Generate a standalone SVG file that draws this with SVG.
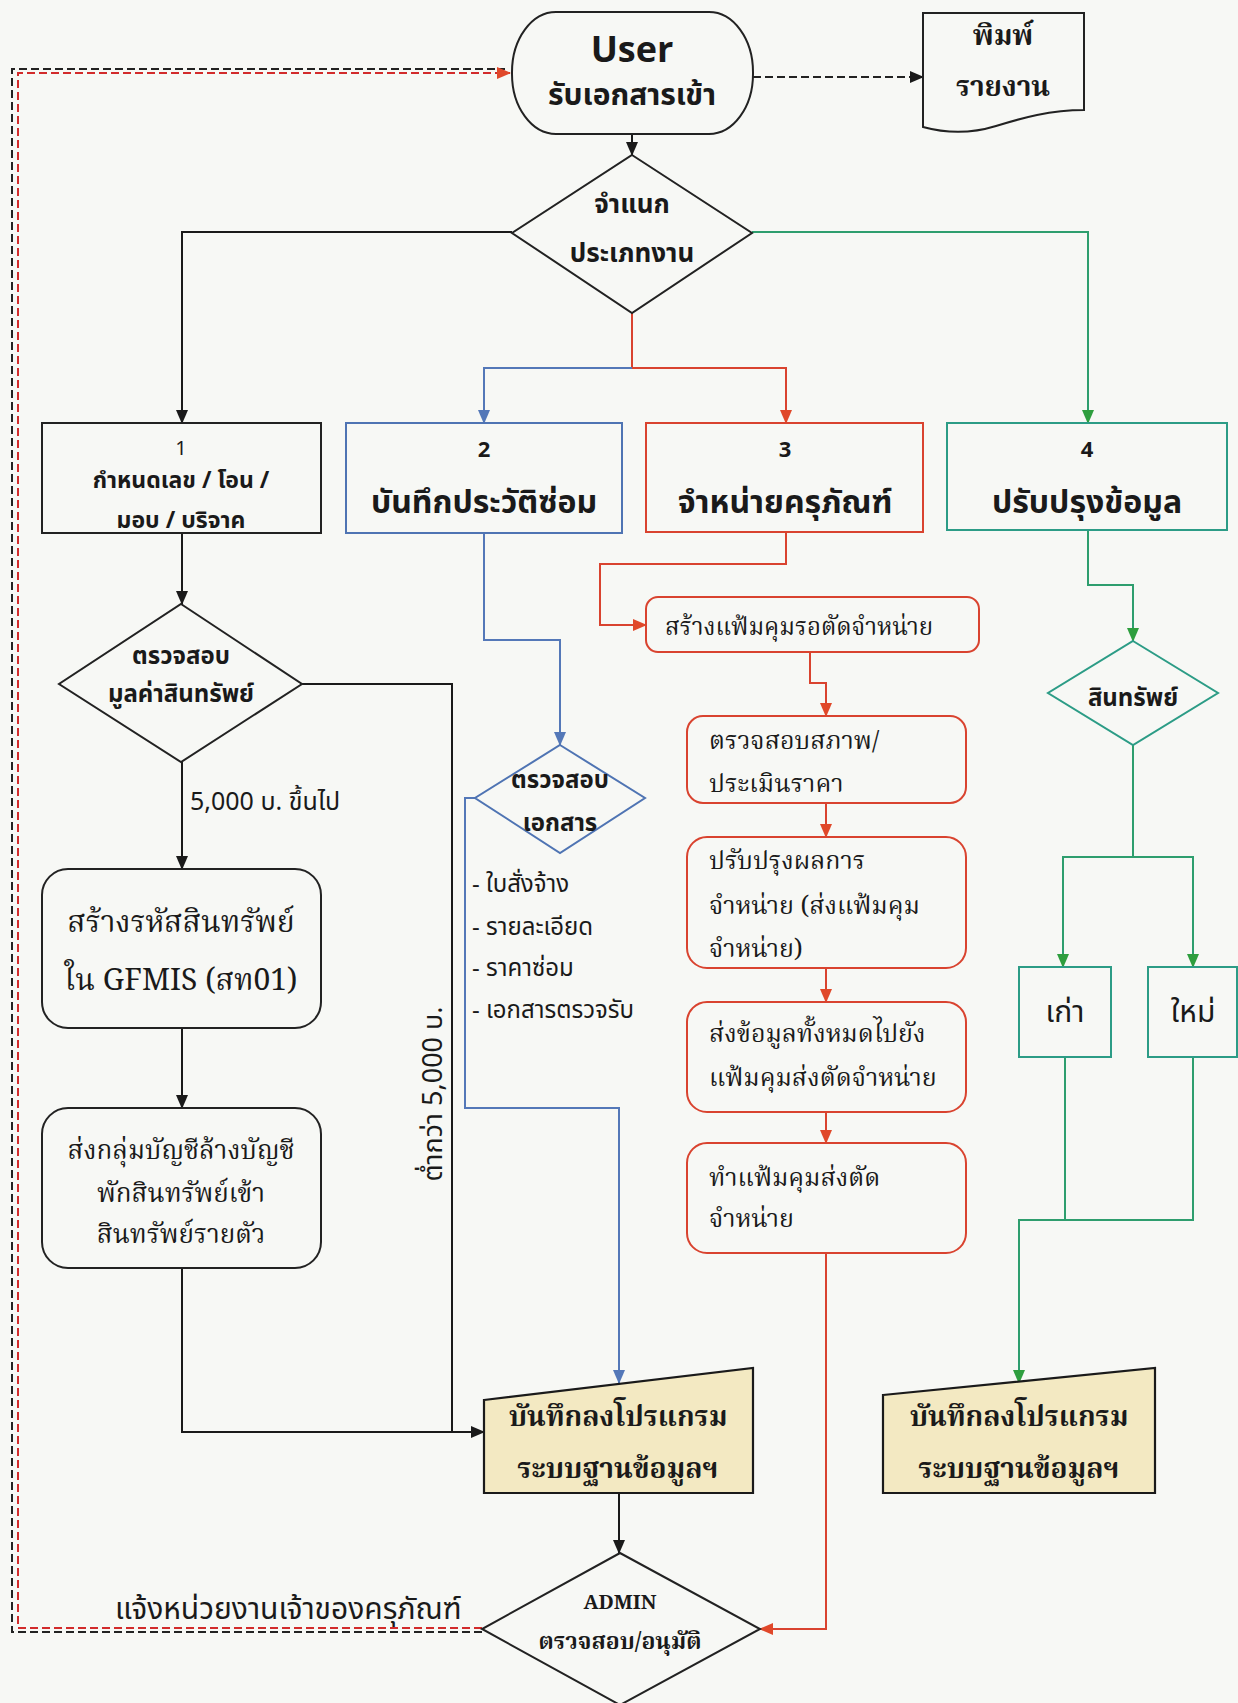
<svg xmlns="http://www.w3.org/2000/svg" width="1238" height="1703" viewBox="0 0 1238 1703">
<style>
.bg{fill:#f7f8f5}
.nb{fill:#f7f8f5;stroke:#222;stroke-width:2}
.nblue{fill:#f7f8f5;stroke:#4f74b3;stroke-width:2}
.nred{fill:#f7f8f5;stroke:#d9432f;stroke-width:2}
.ngreen{fill:#f7f8f5;stroke:#2c9c86;stroke-width:2}
.prog{fill:#f3e9c2;stroke:#1a1a1a;stroke-width:2.2}
.cb{fill:none;stroke:#1a1a1a;stroke-width:2}
.cblue{fill:none;stroke:#5478b8;stroke-width:2}
.cred{fill:none;stroke:#d9432f;stroke-width:2}
.cgreen{fill:none;stroke:#2e9e6e;stroke-width:2}
.dashk{fill:none;stroke:#222;stroke-width:2;stroke-dasharray:8 4}
.dashr{fill:none;stroke:#d22b2b;stroke-width:2;stroke-dasharray:8 4}
text{fill:#1a1a1a}
.sb{font-family:"Noto Sans Thai","Tahoma","Loma","Garuda","Noto Sans","DejaVu Sans",sans-serif;font-weight:bold}
.sr{font-family:"Noto Sans Thai","Tahoma","Loma","Garuda","Noto Sans","DejaVu Sans",sans-serif}
.fr{font-family:"Noto Serif Thai","Angsana New","TH Sarabun New","Norasi","Liberation Serif",serif}
.fb{font-family:"Noto Serif Thai","Angsana New","TH Sarabun New","Norasi","Liberation Serif",serif;font-weight:bold}
.m{text-anchor:middle}
</style>
<defs>
<marker id="ak" markerWidth="14" markerHeight="12" refX="13" refY="6" orient="auto" markerUnits="userSpaceOnUse"><path d="M0,0 L14,6 L0,12 Z" fill="#1a1a1a"/></marker>
<marker id="abl" markerWidth="14" markerHeight="12" refX="13" refY="6" orient="auto" markerUnits="userSpaceOnUse"><path d="M0,0 L14,6 L0,12 Z" fill="#5478b8"/></marker>
<marker id="ar" markerWidth="14" markerHeight="12" refX="13" refY="6" orient="auto" markerUnits="userSpaceOnUse"><path d="M0,0 L14,6 L0,12 Z" fill="#e0482a"/></marker>
<marker id="ag" markerWidth="14" markerHeight="12" refX="13" refY="6" orient="auto" markerUnits="userSpaceOnUse"><path d="M0,0 L14,6 L0,12 Z" fill="#2e9e3e"/></marker>
</defs>
<rect class="bg" x="0" y="0" width="1238" height="1703"/>

<g id="connectors">
  <path class="cb" d="M632,134 V155" marker-end="url(#ak)"/>
  <path class="dashk" d="M753,77 H923" marker-end="url(#ak)"/>
  <path class="cb" d="M512,232 H182 V423" marker-end="url(#ak)"/>
  <path class="cred" d="M632,313 V368 H786 V423" marker-end="url(#ar)"/>
  <path class="cblue" d="M632,368 H484 V423" marker-end="url(#abl)"/>
  <path class="cgreen" d="M752,232 H1088 V423" marker-end="url(#ag)"/>
  <path class="cb" d="M182,533 V604" marker-end="url(#ak)"/>
  <path class="cb" d="M182,762 V869" marker-end="url(#ak)"/>
  <path class="cb" d="M182,1028 V1108" marker-end="url(#ak)"/>
  <path class="cb" d="M182,1268 V1432 H484" marker-end="url(#ak)"/>
  <path class="cb" d="M300,684 H452 V1432"/>
  <path class="cblue" d="M484,533 V640 H560 V745" marker-end="url(#abl)"/>
  <path class="cblue" d="M475,798 H465 V1108 H619 V1383" marker-end="url(#abl)"/>
  <path class="cred" d="M786,533 V564 H600 V625 H646" marker-end="url(#ar)"/>
  <path class="cred" d="M810,652 V683 H826 V716" marker-end="url(#ar)"/>
  <path class="cred" d="M826,803 V837" marker-end="url(#ar)"/>
  <path class="cred" d="M826,968 V1002" marker-end="url(#ar)"/>
  <path class="cred" d="M826,1112 V1143" marker-end="url(#ar)"/>
  <path class="cred" d="M826,1253 V1629 H760" marker-end="url(#ar)"/>
  <path class="cgreen" d="M1088,530 V585 H1133 V641" marker-end="url(#ag)"/>
  <path class="cgreen" d="M1133,745 V857 H1063 V967" marker-end="url(#ag)"/>
  <path class="cgreen" d="M1133,857 H1193 V967" marker-end="url(#ag)"/>
  <path class="cgreen" d="M1065,1057 V1220"/>
  <path class="cgreen" d="M1193,1057 V1220 H1019 V1383" marker-end="url(#ag)"/>
  <path class="cb" d="M619,1493 V1553" marker-end="url(#ak)"/>
  <path class="dashk" d="M482,1632 H12 V69 H505"/>
  <path class="dashr" d="M482,1628 H18 V73 H510" marker-end="url(#ar)"/>
</g>

<g id="user">
  <rect class="nb" x="512" y="12" width="241" height="122" rx="44" ry="60"/>
  <text class="sb m" x="632" y="62" font-size="36" font-family="Open Sans">User</text>
  <text class="sb m" x="632" y="105" font-size="30">รับเอกสารเข้า</text>
</g>
<g id="print">
  <path class="nb" d="M923,13 H1084 V110 C1050,110 1022,118 996,126 C970,134 945,133 923,127 Z"/>
  <text class="fb m" x="1003" y="45" font-size="28">พิมพ์</text>
  <text class="fb m" x="1003" y="96" font-size="28">รายงาน</text>
</g>
<g id="classify">
  <polygon class="nb" points="632,155 752,233 632,313 512,233"/>
  <text class="sb m" x="632" y="213" font-size="26">จำแนก</text>
  <text class="sb m" x="632" y="262" font-size="26">ประเภทงาน</text>
</g>
<g id="box1">
  <rect class="nb" x="42" y="423" width="279" height="110"/>
  <text class="sr m" x="181" y="455" font-size="20">1</text>
  <text class="sb m" x="181" y="488" font-size="23">กำหนดเลข / โอน /</text>
  <text class="sb m" x="181" y="528" font-size="23">มอบ / บริจาค</text>
</g>
<g id="box2">
  <rect class="nblue" x="346" y="423" width="276" height="110"/>
  <text class="sb m" x="484" y="457" font-size="22">2</text>
  <text class="sb m" x="484" y="513" font-size="32">บันทึกประวัติซ่อม</text>
</g>
<g id="box3">
  <rect class="nred" x="646" y="423" width="277" height="109"/>
  <text class="sb m" x="785" y="457" font-size="22">3</text>
  <text class="sb m" x="785" y="513" font-size="32">จำหน่ายครุภัณฑ์</text>
</g>
<g id="box4">
  <rect class="ngreen" x="947" y="423" width="280" height="107"/>
  <text class="sb m" x="1087" y="457" font-size="22">4</text>
  <text class="sb m" x="1087" y="513" font-size="32">ปรับปรุงข้อมูล</text>
</g>
<g id="checkvalue">
  <polygon class="nb" points="181,604 302,684 181,762 59,684"/>
  <text class="sb m" x="181" y="664" font-size="24">ตรวจสอบ</text>
  <text class="sb m" x="181" y="702" font-size="24">มูลค่าสินทรัพย์</text>
  <text class="sr" x="190" y="810" font-size="25">5,000 บ. ขึ้นไป</text>
</g>
<g id="createcode">
  <rect class="nb" x="42" y="869" width="279" height="159" rx="26"/>
  <text class="fr m" x="181" y="932" font-size="30">สร้างรหัสสินทรัพย์</text>
  <text class="fr m" x="181" y="990" font-size="30">ใน GFMIS (สท01)</text>
</g>
<g id="sendacct">
  <rect class="nb" x="42" y="1108" width="279" height="160" rx="26"/>
  <text class="fr m" x="181" y="1159" font-size="26">ส่งกลุ่มบัญชีล้างบัญชี</text>
  <text class="fr m" x="181" y="1202" font-size="26">พักสินทรัพย์เข้า</text>
  <text class="fr m" x="181" y="1243" font-size="26">สินทรัพย์รายตัว</text>
</g>
<text class="sr m" font-size="27" transform="translate(442,1094) rotate(-90)">ต่ำกว่า 5,000 บ.</text>
<g id="checkdoc">
  <polygon class="nblue" points="560,745 645,798 560,853 475,798"/>
  <text class="sb m" x="560" y="788" font-size="24">ตรวจสอบ</text>
  <text class="sb m" x="560" y="831" font-size="24">เอกสาร</text>
  <text class="sr" x="472" y="892" font-size="24">- ใบสั่งจ้าง</text>
  <text class="sr" x="472" y="935" font-size="24">- รายละเอียด</text>
  <text class="sr" x="472" y="976" font-size="24">- ราคาซ่อม</text>
  <text class="sr" x="472" y="1018" font-size="24">- เอกสารตรวจรับ</text>
</g>
<g id="createfile">
  <rect class="nred" x="646" y="597" width="333" height="55" rx="12"/>
  <text class="fr" x="665" y="635" font-size="24">สร้างแฟ้มคุมรอตัดจำหน่าย</text>
</g>
<g id="inspect">
  <rect class="nred" x="687" y="716" width="279" height="87" rx="16"/>
  <text class="fr" x="709" y="749" font-size="25">ตรวจสอบสภาพ/</text>
  <text class="fr" x="709" y="792" font-size="25">ประเมินราคา</text>
</g>
<g id="adjust">
  <rect class="nred" x="687" y="837" width="279" height="131" rx="20"/>
  <text class="fr" x="709" y="869" font-size="25">ปรับปรุงผลการ</text>
  <text class="fr" x="709" y="914" font-size="25">จำหน่าย (ส่งแฟ้มคุม</text>
  <text class="fr" x="709" y="957" font-size="25">จำหน่าย)</text>
</g>
<g id="sendall">
  <rect class="nred" x="687" y="1002" width="279" height="110" rx="20"/>
  <text class="fr" x="709" y="1042" font-size="25">ส่งข้อมูลทั้งหมดไปยัง</text>
  <text class="fr" x="709" y="1086" font-size="25">แฟ้มคุมส่งตัดจำหน่าย</text>
</g>
<g id="makefile">
  <rect class="nred" x="687" y="1143" width="279" height="110" rx="20"/>
  <text class="fr" x="709" y="1186" font-size="25">ทำแฟ้มคุมส่งตัด</text>
  <text class="fr" x="709" y="1227" font-size="25">จำหน่าย</text>
</g>
<g id="asset">
  <polygon class="ngreen" points="1133,641 1218,693 1133,745 1048,693"/>
  <text class="sb m" x="1133" y="706" font-size="24">สินทรัพย์</text>
</g>
<g id="old">
  <rect class="ngreen" x="1019" y="967" width="92" height="90"/>
  <text class="sr m" x="1065" y="1022" font-size="30">เก่า</text>
</g>
<g id="new">
  <rect class="ngreen" x="1148" y="967" width="89" height="90"/>
  <text class="sr m" x="1193" y="1022" font-size="30">ใหม่</text>
</g>
<g id="program1">
  <polygon class="prog" points="484,1400 753,1368 753,1493 484,1493"/>
  <text class="fb m" x="618" y="1426" font-size="28">บันทึกลงโปรแกรม</text>
  <text class="fb m" x="618" y="1478" font-size="28">ระบบฐานข้อมูลฯ</text>
</g>
<g id="program2">
  <polygon class="prog" points="883,1395 1155,1368 1155,1493 883,1493"/>
  <text class="fb m" x="1019" y="1426" font-size="28">บันทึกลงโปรแกรม</text>
  <text class="fb m" x="1019" y="1478" font-size="28">ระบบฐานข้อมูลฯ</text>
</g>
<g id="admin">
  <polygon class="nb" points="620,1553 760,1629 620,1705 482,1629"/>
  <text class="fb m" x="620" y="1609" font-size="20">ADMIN</text>
  <text class="fb m" x="620" y="1649" font-size="23">ตรวจสอบ/อนุมัติ</text>
</g>
<text class="sr" x="115" y="1619" font-size="30">แจ้งหน่วยงานเจ้าของครุภัณฑ์</text>
</svg>
